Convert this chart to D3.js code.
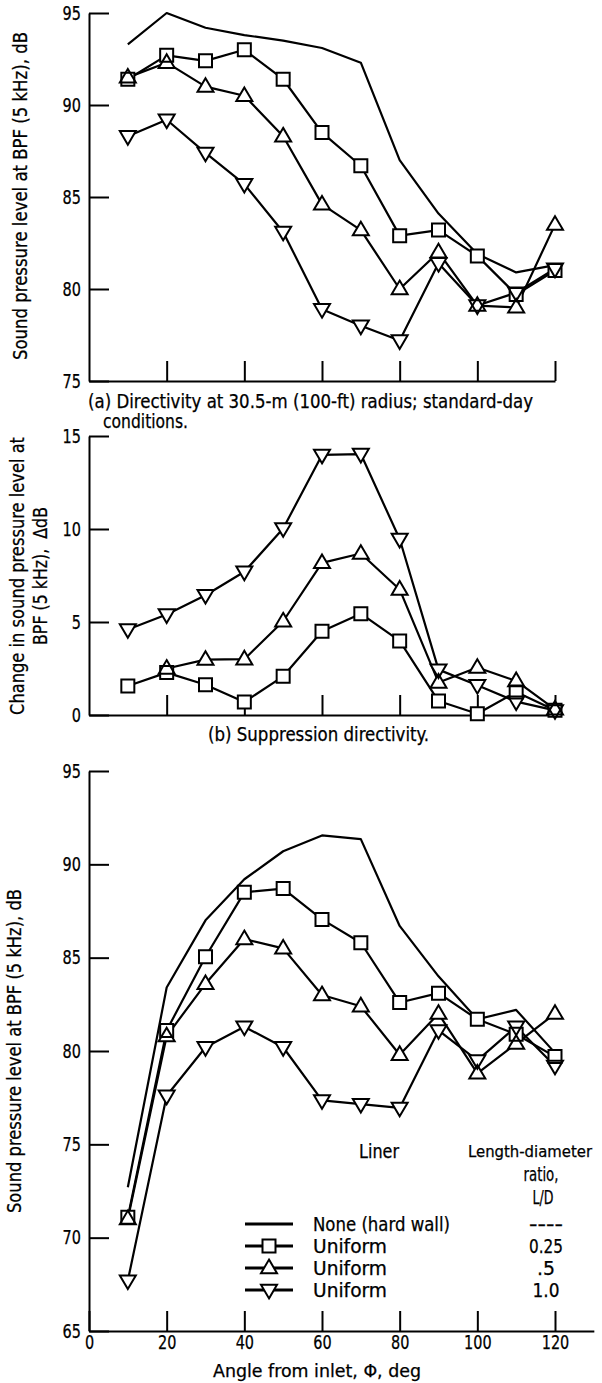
<!DOCTYPE html>
<html><head><meta charset="utf-8">
<script src="https://cdn.jsdelivr.net/npm/d3@7"></script>
<style>
html,body{margin:0;padding:0;background:#fff;}
svg{display:block;}
text{font-family:"DejaVu Sans Condensed","DejaVu Sans",sans-serif;fill:#000;}
</style></head><body>
<svg id="chart" width="602" height="1383"></svg>
<script>
// ---------- data ----------
const angles = [10,20,30,40,50,60,70,80,90,100,110,120];

// (a) Directivity, SPL dB
const aHardWall = [93.3,95.0,94.2,93.8,93.5,93.1,92.3,87.0,84.1,81.9,80.9,81.3];
const aLD025    = [91.4,92.7,92.4,93.0,91.4,88.5,86.7,82.9,83.2,81.8,79.7,81.0];
const aLD05     = [91.5,92.3,91.0,90.5,88.3,84.6,83.2,80.0,82.0,79.1,79.0,83.5];
const aLD10     = [88.3,89.2,87.4,85.7,83.1,78.9,78.0,77.2,81.4,79.1,79.8,81.1];

// (b) Suppression, delta dB
const bLD025 = [1.56,2.28,1.63,0.7,2.08,4.5,5.45,3.98,0.75,0.07,1.24,0.25];
const bLD05  = [null,2.5,2.98,3.0,5.04,8.18,8.68,6.75,1.75,2.55,1.83,0.3];
const bLD10  = [4.6,5.4,6.44,7.7,10.03,13.98,14.03,9.46,2.44,1.6,0.72,0.25];

// (c) SPL dB
const cHardWall = [72.7,83.4,87.0,89.2,90.7,91.55,91.35,86.7,84.0,81.7,82.2,79.9];
const cLD025    = [71.1,81.1,85.05,88.5,88.7,87.05,85.8,82.6,83.1,81.7,80.9,79.7];
const cLD05     = [71.0,80.8,83.6,86.0,85.5,83.0,82.4,79.8,82.0,78.8,80.4,82.0];
const cLD10     = [67.7,77.6,80.2,81.3,80.2,77.35,77.15,76.95,81.1,79.5,81.3,79.2];

const aYTicks = [75,80,85,90,95];
const bYTicks = [0,5,10,15];
const cYTicks = [65,70,75,80,85,90,95];
const xTicks  = [20,40,60,80,100,120];
const cXTicks = [0,20,40,60,80,100,120];

const legendLiner  = ["None (hard wall)","Uniform","Uniform","Uniform"];
const legendRatio  = ["----","0.25",".5","1.0"];
const legendMarker = ["none","square","up","down"];

// ---------- layout ----------
const svg = d3.select("#chart");
const X0 = 89, PX_PER_DEG = (555-89)/120;
const xA = d3.scaleLinear().domain([0,120]).range([X0, X0+120*PX_PER_DEG]);
const xC = d3.scaleLinear().domain([0,130]).range([X0, X0+130*PX_PER_DEG]);
const yA = d3.scaleLinear().domain([75,95]).range([381,13]);
const yB = d3.scaleLinear().domain([0,15]).range([715,436]);
const yC = d3.scaleLinear().domain([65,95]).range([1331,771]);

const FONT = '"DejaVu Sans Condensed","DejaVu Sans",sans-serif';
function txt(x,y,s,opt={}){
  const t = svg.append("text").attr("x",x).attr("y",y)
    .attr("dominant-baseline","central")
    .attr("text-anchor",opt.anchor||"start")
    .style("font-size",(opt.size||19)+"px")
    .style("font-weight","500")
    .attr("stroke","#000").attr("stroke-width",0.25)
    .text(s);
  if(opt.len){ t.attr("textLength",opt.len).attr("lengthAdjust","spacingAndGlyphs"); }
  if(opt.rot){ t.attr("transform",`rotate(${opt.rot},${x},${y})`); }
  return t;
}

function styleAxis(g){
  g.selectAll("path.domain").attr("stroke","#000").attr("stroke-width",2);
  g.selectAll(".tick line").attr("stroke","#000").attr("stroke-width",2);
  g.selectAll(".tick text").style("font-size","19px").attr("fill","#000")
    .attr("stroke","#000").attr("stroke-width",0.25)
    .style("font-family",FONT);
}

function panel(x,y,yTicks,xScaleTicks,xLabels){
  const gy = svg.append("g").attr("transform",`translate(${X0},0)`)
    .call(d3.axisLeft(y).tickValues(yTicks).tickSizeInner(-20).tickSizeOuter(0).tickPadding(8).tickFormat(d3.format("d")));
  styleAxis(gy);
  gy.selectAll(".tick text").each(function(){
    const n = this.textContent.length;
    d3.select(this).attr("textLength", n*9.2).attr("lengthAdjust","spacingAndGlyphs");
  });
  const gx = svg.append("g").attr("transform",`translate(0,${y.range()[0]})`)
    .call(d3.axisBottom(x).tickValues(xScaleTicks).tickSizeInner(-20).tickSizeOuter(0).tickPadding(4)
      .tickFormat(xLabels ? d3.format("d") : ""));
  styleAxis(gx);
  gx.selectAll(".tick text").attr("dy","0.71em").each(function(){
    const n = this.textContent.length;
    if(n) d3.select(this).attr("textLength", n*9.2).attr("lengthAdjust","spacingAndGlyphs");
  });
}

const tri = 8;
function markerPath(type){
  if(type==="up")   return `M0,${-tri*1.05}L${tri},${tri*0.65}L${-tri},${tri*0.65}Z`;
  if(type==="down") return `M0,${tri*1.05}L${tri},${-tri*0.65}L${-tri},${-tri*0.65}Z`;
  const s=6.5; return `M${-s},${-s}H${s}V${s}H${-s}Z`;
}

function series(x,y,vals,type,layers){
  const pts = angles.map((a,i)=>({a,v:vals[i]}));
  const line = d3.line().defined(d=>d.v!=null).x(d=>x(d.a)).y(d=>y(d.v));
  layers.lines.append("path").datum(pts).attr("d",line)
    .attr("fill","none").attr("stroke","#000").attr("stroke-width",2.2).attr("stroke-linejoin","round");
  if(type==="none") return;
  const good = pts.filter(d=>d.v!=null);
  layers.fills.selectAll(null).data(good).enter().append("path")
    .attr("transform",d=>`translate(${x(d.a)},${y(d.v)})`).attr("d",markerPath(type))
    .attr("fill","#fff").attr("stroke","none");
  layers.outlines.selectAll(null).data(good).enter().append("path")
    .attr("transform",d=>`translate(${x(d.a)},${y(d.v)})`).attr("d",markerPath(type))
    .attr("fill","none").attr("stroke","#000").attr("stroke-width",2).attr("stroke-linejoin","miter");
}
function layers(){
  return {lines:svg.append("g"),fills:svg.append("g"),outlines:svg.append("g")};
}

// ----- panel (a)
panel(xA,yA,aYTicks,xTicks,false);
let L = layers();
series(xA,yA,aHardWall,"none",L);
series(xA,yA,aLD025,"square",L);
series(xA,yA,aLD05,"up",L);
series(xA,yA,aLD10,"down",L);
txt(88,401,"(a) Directivity at 30.5-m (100-ft) radius; standard-day",{len:445});
txt(103,421,"conditions.",{len:85});
txt(20,196,"Sound pressure level at BPF (5 kHz), dB",{anchor:"middle",rot:-90,len:328});

// ----- panel (b)
panel(xA,yB,bYTicks,xTicks,false);
L = layers();
series(xA,yB,bLD025,"square",L);
series(xA,yB,bLD05,"up",L);
series(xA,yB,bLD10,"down",L);
txt(208,734,"(b) Suppression directivity.",{len:221});
txt(17,576,"Change in sound pressure level at",{anchor:"middle",rot:-90,len:278});
txt(40,576,"BPF (5 kHz),\u00a0\u00a0ΔdB",{anchor:"middle",rot:-90,len:138});

// ----- panel (c)
panel(xC,yC,cYTicks,cXTicks,true);
L = layers();
series(xC,yC,cHardWall,"none",L);
series(xC,yC,cLD025,"square",L);
series(xC,yC,cLD05,"up",L);
series(xC,yC,cLD10,"down",L);
txt(213,1370,"Angle from inlet, Φ, deg",{len:208,size:18});
txt(13.5,1051,"Sound pressure level at BPF (5 kHz), dB",{anchor:"middle",rot:-90,len:324});

// legend
txt(379,1151,"Liner",{anchor:"middle",len:40});
txt(468,1151,"Length-diameter",{len:124,size:16});
txt(541,1174,"ratio,",{anchor:"middle",len:35});
txt(543,1197,"L/D",{anchor:"middle",len:21});
const legY = [1224,1246,1268,1290];
const legLen = [137,74,74,74];
const ratioLen = [34,34,18,27];
legendLiner.forEach((s,i)=>{
  const y = legY[i];
  svg.append("line").attr("x1",245).attr("x2",293).attr("y1",y).attr("y2",y)
    .attr("stroke","#000").attr("stroke-width",3);
  if(legendMarker[i]!=="none"){
    svg.append("path").attr("transform",`translate(269,${y})`).attr("d",markerPath(legendMarker[i]))
      .attr("fill","#fff").attr("stroke","#000").attr("stroke-width",2);
  }
  txt(313,y,s,{len:legLen[i]});
  txt(546,y,legendRatio[i],{anchor:"middle",len:ratioLen[i]});
});
</script>
</body></html>
